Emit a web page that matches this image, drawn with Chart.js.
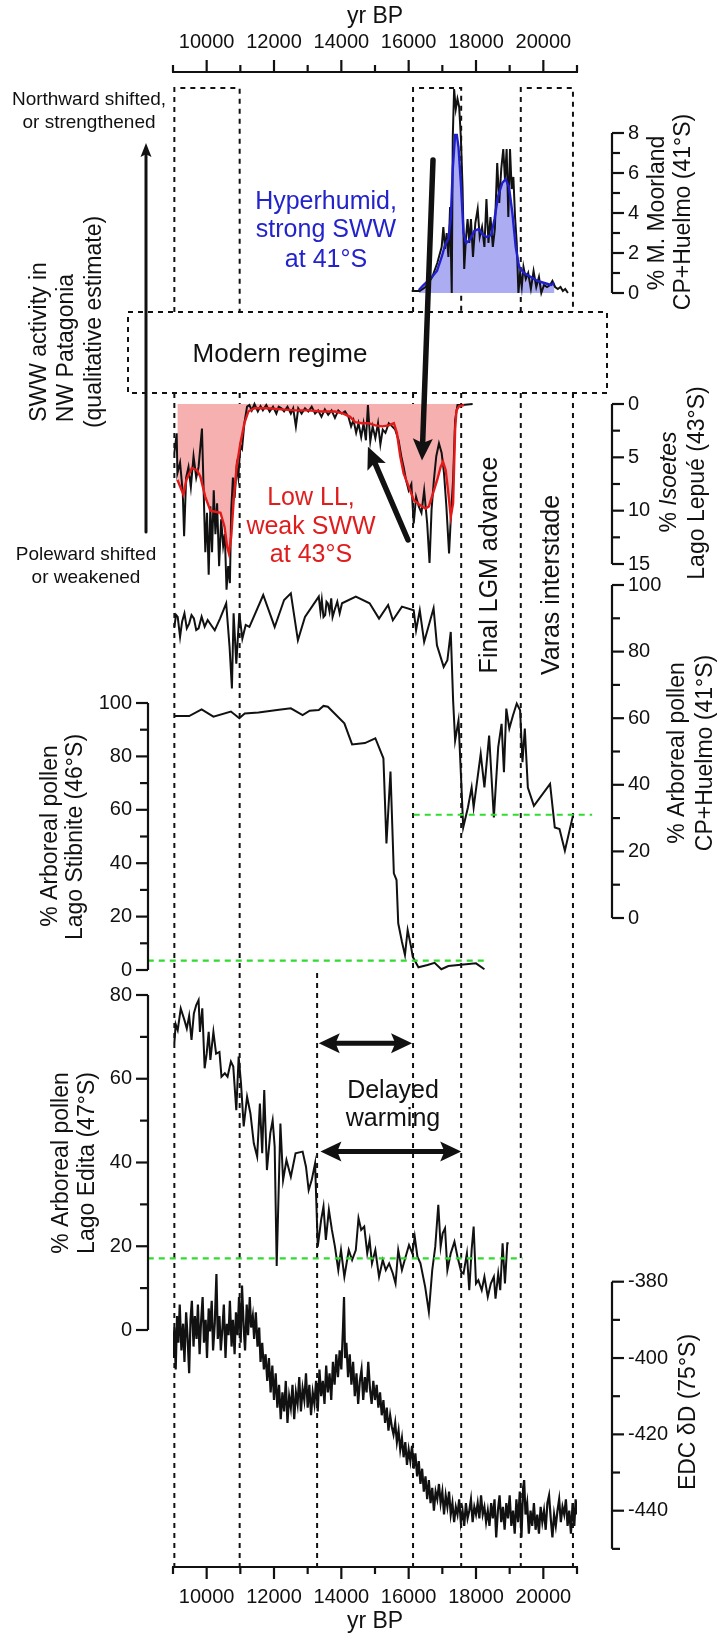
<!DOCTYPE html>
<html lang="en">
<head>
<meta charset="UTF-8">
<title>SWW activity and pollen records, 9000-21000 yr BP</title>
<script src="https://cdn.jsdelivr.net/npm/chart.js"></script>
<style>
  body { margin: 0; background: #fff; }
  canvas { display: block; }
</style>
</head>
<body>
<canvas id="proxyChart" width="721" height="1637"></canvas>
<script>
// ---------- data (yr BP, value) ----------
const yearMajorTicks = [10000, 12000, 14000, 16000, 18000, 20000];
const yearMinorTicks = [9000, 11000, 13000, 15000, 17000, 19000, 21000];

const moorlandTicks = [0, 2, 4, 6, 8];
const moorlandMinor = [1, 3, 5, 7];
const isoetesTicks = [0, 5, 10, 15];
const isoetesMinor = [2.5, 7.5, 12.5];
const pollenTicks = [0, 20, 40, 60, 80, 100];
const pollenMinor = [10, 30, 50, 70, 90];
const editaTicks = [0, 20, 40, 60, 80];
const editaMinor = [10, 30, 50, 70];
const edcTicks = [-380, -400, -420, -440];
const edcMinor = [-390, -410, -430, -450];

// dashed boxes / event lines
const topBoxes = [[9040, 10980], [16130, 17560], [19330, 20880]];
const eventYears = [9040, 10980, 16130, 17560, 19330, 20880];
const delayedYear = 13280;

// % Magellanic Moorland, CP+Huelmo
const moorlandRaw = [[16090,0.1],[16330,0.1],[16500,0.3],[16700,0.8],[16850,1.5],[16980,2.3],[17030,3.3],[17080,2.2],[17130,3.0],[17180,1.8],[17230,4.3],[17280,0],[17310,7.8],[17350,10.2],[17400,9.2],[17450,9.7],[17500,9.3],[17550,7.8],[17600,5.3],[17650,1.2],[17700,2.7],[17750,3.7],[17800,2.5],[17850,3.7],[17910,1.8],[17980,3.5],[18050,4.2],[18110,2.8],[18180,3.3],[18250,2.3],[18310,4.7],[18370,2.5],[18430,3.8],[18500,2.3],[18560,3.2],[18630,6.5],[18690,4.5],[18750,6.2],[18810,7.2],[18860,5.7],[18910,7.2],[18960,3.8],[19010,7.2],[19060,5.2],[19110,5.8],[19160,3.8],[19210,2.5],[19260,0],[19310,1],[19360,0.3],[19410,1.3],[19480,0.7],[19550,1],[19630,0.2],[19710,1.1],[19790,0.3],[19870,0.8],[19940,0],[20020,0.4],[20110,0.3],[20200,0.4],[20270,0.6],[20350,0.3],[20430,0.2],[20510,0.3],[20580,0.1],[20650,0.2],[20730,0]];
const moorlandSmooth = [[16300,0.15],[16440,0.4],[16640,0.7],[16840,1.1],[16980,1.8],[17080,2.4],[17180,2.7],[17250,3.7],[17310,6.2],[17380,7.9],[17430,7.9],[17480,7.3],[17550,5.5],[17630,3.0],[17710,2.5],[17830,2.7],[17950,3.1],[18080,3.2],[18210,2.9],[18330,2.8],[18450,2.9],[18550,3.7],[18650,4.8],[18780,5.5],[18880,5.7],[18980,5.3],[19080,4.0],[19180,2.3],[19280,1.3],[19430,1.0],[19630,0.8],[19830,0.6],[20030,0.5],[20230,0.4],[20330,0.5]];

// % Isoetes, Lago Lepue
const isoetesRaw = [[9040,4.6],[9110,2.75],[9130,6.5],[9210,5.5],[9290,8.3],[9330,12.4],[9390,6.9],[9460,5.9],[9530,7.8],[9610,4.9],[9690,6.9],[9760,5.9],[9860,2.3],[9910,8.1],[9960,13.9],[10010,10.2],[10060,16],[10110,9.6],[10160,13.9],[10210,8.1],[10260,12.2],[10310,9.3],[10370,15.2],[10430,10.8],[10490,13.3],[10540,12.2],[10590,17.4],[10640,15.2],[10690,16.8],[10730,9.9],[10780,6.9],[10830,8.8],[10890,5.9],[10940,6.9],[11000,3.9],[11050,4.2],[11120,1.8],[11200,0.25],[11270,0.1],[11340,0.6],[11420,0],[11520,0.7],[11600,0.2],[11670,0.6],[11770,0.1],[11870,0.7],[11970,0.25],[12070,0.9],[12140,0.25],[12220,0.4],[12300,0.7],[12400,0.25],[12500,0.9],[12570,0.4],[12650,2.1],[12720,0.4],[12820,0.9],[12920,0.4],[13020,0.7],[13120,0.25],[13220,0.9],[13310,0.6],[13410,1.2],[13510,0.5],[13610,1.0],[13710,0.6],[13810,1.3],[13910,0.6],[14010,0.9],[14110,0.7],[14210,1.2],[14290,2.1],[14360,1.5],[14440,2.7],[14510,1.8],[14590,3.1],[14660,1.8],[14730,3.4],[14790,0.1],[14860,3.5],[14930,2.1],[15010,3.2],[15090,1.8],[15160,3.8],[15230,2.4],[15310,2.7],[15410,1.8],[15510,2.1],[15600,2.4],[15700,3.4],[15780,4.9],[15850,5.9],[15920,7.1],[16000,8.1],[16080,7.5],[16150,11.2],[16220,8.7],[16300,9.6],[16380,10.2],[16460,8.1],[16550,11.2],[16620,14.9],[16680,9.9],[16750,7.1],[16820,4.9],[16900,3.7],[16980,4.6],[17050,6.5],[17120,9.6],[17200,14],[17260,10.2],[17320,7.1],[17380,1.5],[17450,0.1],[17600,0.1],[17900,0]];
const isoetesSmooth = [[9130,7.1],[9310,8.5],[9400,7.1],[9560,6.0],[9710,6.2],[9810,6.8],[9960,8.7],[10110,10.0],[10260,10.1],[10410,10.2],[10530,11.5],[10610,13.4],[10660,14.0],[10730,12.4],[10810,8.7],[10890,5.9],[11000,3.7],[11120,1.8],[11240,0.7],[11420,0.4],[11820,0.4],[12220,0.5],[12620,0.6],[13020,0.6],[13410,0.7],[13810,0.7],[14060,0.9],[14260,1.2],[14410,1.7],[14610,1.8],[14810,1.8],[15010,2.0],[15210,2.1],[15410,2.0],[15560,1.8],[15650,2.7],[15750,4.9],[15850,6.5],[16000,7.75],[16150,9.0],[16300,9.4],[16500,9.8],[16600,9.6],[16720,8.4],[16850,7.1],[16950,5.9],[17020,5.4],[17100,6.2],[17180,8.4],[17250,10.6],[17320,9.3],[17380,2.4],[17420,0.6],[17500,0.2],[17650,0.1]];

// % arboreal pollen, CP+Huelmo
const cpHuelmo = [[9040,87.4],[9090,91],[9140,90.4],[9210,84.4],[9270,89],[9340,91.5],[9410,87],[9480,88.4],[9550,91],[9620,90],[9690,86.5],[9760,87],[9850,90.5],[9940,87.5],[10030,89.5],[10130,88],[10240,86.4],[10400,90],[10580,94.5],[10680,81.4],[10750,68.9],[10800,91.5],[10880,76.4],[10970,91.5],[11060,83.9],[11160,88],[11270,87.4],[11680,97],[12020,87.4],[12300,95.5],[12500,97.5],[12710,83.4],[12920,90.4],[13330,96.5],[13380,92],[13420,95.5],[13470,90.4],[13520,91],[13560,95],[13600,94.5],[13650,92],[13700,96],[13740,90.4],[13800,92.5],[13880,95],[13950,91.5],[14020,94.5],[14430,96.5],[14840,94.5],[15120,89.9],[15390,94],[15530,89.4],[15800,93.5],[16150,92.4],[16220,86.4],[16330,92.4],[16460,82.9],[16740,93],[16840,81.9],[17040,75.4],[17150,77.4],[17250,85.9],[17320,65.4],[17380,53.3],[17480,59.3],[17560,41.3],[17620,27.2],[17760,33.2],[17870,39.2],[17930,33.2],[18140,49.3],[18250,39.2],[18390,54.8],[18530,30.2],[18660,51.3],[18760,58.3],[18830,43.8],[18900,62.9],[18990,56.9],[19100,60.9],[19210,64.4],[19310,62.4],[19380,46.8],[19450,56.9],[19540,39.2],[19720,33.7],[20200,40.3],[20340,27.2],[20480,26.7],[20640,20.2],[20890,31.2]];

// % arboreal pollen, Lago Stibnite
const stibnite = [[9040,95.1],[9480,95.1],[9850,97.6],[10200,94.9],[10720,96.8],[10970,94.3],[11130,96.1],[11540,96.4],[12090,97.4],[12500,98],[12850,95.5],[13060,97.1],[13330,97.4],[13470,98.9],[13600,98.6],[14090,92.4],[14320,84.5],[14700,85],[15010,86.8],[15250,79.3],[15340,47.4],[15460,74.3],[15560,36.2],[15640,33.7],[15690,17.5],[15800,10.6],[15890,5.6],[15970,15],[16080,8.1],[16120,5],[16290,1],[16560,1.9],[16770,2.7],[16970,0.3],[17180,1.5],[18000,2.5],[18250,0.3]];

// % arboreal pollen, Lago Edita
const edita = [[9040,68.5],[9080,73],[9140,71.6],[9230,76.8],[9340,74],[9410,72],[9480,75],[9550,69.3],[9620,75.6],[9690,77.6],[9760,78.8],[9800,71.2],[9870,76.8],[9940,62.5],[10000,66],[10060,71.2],[10110,64.5],[10200,71.2],[10280,66],[10380,66.4],[10440,60.5],[10540,61.3],[10620,60.5],[10720,64.1],[10790,62.9],[10880,52.5],[10950,65.3],[11020,58.9],[11100,48.6],[11200,55.7],[11300,51.7],[11400,44.6],[11500,41.4],[11580,54.1],[11650,42.2],[11710,57.3],[11790,38.2],[11890,47],[11960,50.1],[12020,43.8],[12080,15.3],[12190,49.3],[12270,35.8],[12370,40.6],[12500,36.6],[12640,42.2],[12850,42.6],[12950,39],[13030,33.4],[13120,35.8],[13220,39.8],[13300,19.9],[13400,26.3],[13470,29.5],[13540,21.5],[13630,28.7],[13720,23.9],[13810,19.9],[13910,14.3],[13990,19.1],[14090,12.7],[14220,19.1],[14320,16.7],[14430,19.1],[14510,26.7],[14590,23.9],[14680,24.7],[14770,18.3],[14840,21.5],[14910,15.9],[15010,19.1],[15120,12.7],[15230,16.7],[15320,14.3],[15420,15.9],[15530,13.5],[15610,11.1],[15690,19.1],[15800,14.3],[15910,17.5],[16010,20.3],[16110,18.3],[16180,22.3],[16260,17.5],[16350,15.9],[16490,10.3],[16600,4.3],[16700,14.3],[16790,19.9],[16880,29.9],[16950,19.9],[17010,23.1],[17080,24.3],[17150,14.3],[17250,18.3],[17360,21.1],[17450,17.5],[17560,13.9],[17630,13.5],[17730,18.3],[17800,9.5],[17870,19.1],[17930,24.7],[18000,11.1],[18070,11.9],[18170,9.5],[18250,12.7],[18350,7.9],[18440,11.1],[18530,12.7],[18580,7.5],[18660,13.5],[18720,9.5],[18790,20.7],[18860,11.1],[18930,20.7],[18970,20.7]];

// EDC deuterium (per mil)
const edcDeltaD = [[9000,-400],[9040,-392],[9080,-403],[9120,-389],[9160,-396],[9200,-386],[9250,-398],[9300,-391],[9340,-401],[9390,-388],[9430,-394],[9480,-404],[9520,-390],[9560,-385],[9610,-397],[9650,-389],[9700,-395],[9740,-386],[9790,-399],[9830,-391],[9880,-384],[9920,-396],[9970,-390],[10010,-400],[10060,-387],[10100,-393],[10150,-385],[10190,-398],[10240,-391],[10290,-378],[10330,-395],[10380,-389],[10420,-398],[10470,-392],[10510,-386],[10560,-400],[10600,-391],[10650,-394],[10690,-385],[10740,-397],[10780,-390],[10830,-399],[10870,-388],[10920,-394],[10960,-384],[11010,-396],[11050,-381],[11100,-392],[11140,-398],[11190,-386],[11230,-394],[11280,-384],[11320,-392],[11370,-389],[11410,-395],[11460,-388],
  [11510,-397],[11560,-392],[11600,-401],[11650,-396],[11700,-403],[11750,-399],[11800,-406],[11850,-400],[11900,-409],[11950,-402],[12000,-411],[12050,-404],[12100,-413],[12150,-407],[12200,-416],
  [12250,-409],[12300,-414],[12350,-406],[12400,-417],[12450,-410],[12500,-413],[12550,-407],[12600,-416],[12650,-409],[12700,-412],[12750,-405],[12800,-414],[12850,-408],[12900,-411],[12950,-404],[13000,-413],[13050,-407],[13100,-415],[13150,-409],[13200,-412],[13250,-406],[13300,-414],
  [13350,-403],[13400,-410],[13450,-406],[13500,-412],[13550,-402],[13600,-409],[13650,-404],[13700,-411],[13750,-401],[13800,-407],[13850,-399],[13900,-405],[13950,-398],[14000,-403],[14050,-392],[14080,-384],[14110,-400],[14150,-396],[14200,-405],[14250,-399],[14300,-407],[14350,-401],[14400,-410],[14450,-404],[14500,-412],
  [14550,-406],[14600,-403],[14650,-411],[14700,-405],[14750,-409],[14800,-401],[14850,-408],[14900,-412],[14950,-406],[15000,-411],[15050,-407],[15100,-413],[15150,-409],
  [15200,-415],[15250,-411],[15300,-417],[15350,-413],[15400,-419],[15450,-415],[15500,-418],[15550,-420],[15600,-417],[15650,-422],[15700,-419],[15750,-424],[15800,-421],[15850,-426],[15900,-422],[15950,-428],[16000,-424],[16050,-427],[16100,-423],[16150,-429],[16200,-425],[16250,-431],[16300,-427],
  [16350,-433],[16400,-429],[16450,-435],[16500,-431],[16550,-437],[16600,-432],[16650,-438],[16700,-434],[16750,-440],[16800,-435],[16850,-437],[16900,-433],[16950,-438],[17000,-435],[17050,-441],[17100,-436],[17150,-439],[17200,-435],[17250,-441],[17300,-438],[17350,-443],[17400,-439],[17450,-441],[17500,-437],[17550,-443],[17600,-440],
  [17650,-444],[17700,-438],[17750,-442],[17800,-440],[17850,-437],[17900,-443],[17950,-439],[18000,-441],[18050,-438],[18100,-442],[18150,-436],[18200,-441],[18250,-439],[18300,-443],[18350,-440],[18400,-444],[18450,-438],[18500,-442],[18550,-437],[18600,-447],[18650,-440],[18700,-436],[18750,-443],[18800,-439],[18850,-445],[18900,-438],[18950,-442],[19000,-436],[19050,-444],[19100,-440],[19150,-446],[19200,-437],[19250,-443],[19300,-435],[19350,-447],[19400,-434],[19430,-432],[19470,-441],[19520,-438],[19570,-446],[19620,-440],[19670,-444],[19720,-438],[19770,-445],[19820,-441],[19870,-446],[19920,-439],[19970,-443],[20020,-440],[20070,-445],[20120,-438],[20170,-436],[20220,-442],[20270,-447],[20320,-441],[20370,-444],[20420,-440],[20470,-437],[20520,-443],[20570,-439],[20620,-441],[20670,-437],[20720,-444],[20770,-440],[20820,-446],[20870,-438],[20920,-444],[20960,-437],[21000,-441]];

// modern-level thresholds (green dashed)
const cpThreshold = [[16150, 31], [21450, 31]];
const stibThreshold = [[8250, 3.5], [18350, 3.5]];
const editaThreshold = [[8250, 17.1], [19380, 17.1]];

// ---------- layout ----------
const W = 721, H = 1637;
const AREA = { left: 173, right: 577, top: 72, bottom: 1567 };
const RIGHT_AXIS_X = 612, LEFT_AXIS_X = 148;
const FONT = '"Liberation Sans", Arial, Helvetica, sans-serif';

// linear y scale where value v1 sits at pixel p1 and v2 at p2
function panelScale(v1, p1, v2, p2, reverse) {
  const k = (v2 - v1) / (p2 - p1);
  const atTop = v1 + (AREA.top - p1) * k;
  const atBottom = v1 + (AREA.bottom - p1) * k;
  return { type: 'linear', axis: 'y', display: false, reverse: !!reverse,
           min: Math.min(atTop, atBottom), max: Math.max(atTop, atBottom) };
}

const pts = arr => arr.map(([x, y]) => ({ x, y }));
function series(arr, yAxisID, color, width, extra) {
  return Object.assign({
    data: pts(arr), yAxisID, xAxisID: 'x', borderColor: color, borderWidth: width,
    pointRadius: 0, tension: 0, fill: false
  }, extra || {});
}

const BLACK = '#111';
const GREEN = '#2fdc2f';

const datasets = [
  series(cpThreshold, 'yCp', GREEN, 2.2, { borderDash: [6, 5], clip: false }),
  series(stibThreshold, 'yStib', GREEN, 2.2, { borderDash: [6, 5], clip: false }),
  series(editaThreshold, 'yEdita', GREEN, 2.2, { borderDash: [6, 5], clip: false }),
  series(moorlandSmooth, 'yMoor', '#1f1fcc', 2.4),
  series(isoetesSmooth, 'yIso', '#e31a1a', 2.4),
  series(moorlandRaw, 'yMoor', BLACK, 2),
  series(isoetesRaw, 'yIso', BLACK, 2),
  series(moorlandSmooth, 'yMoor', 'rgba(0,0,0,0)', 0, { fill: { value: 0 }, backgroundColor: '#acacf2' }),
  series(isoetesSmooth, 'yIso', 'rgba(0,0,0,0)', 0, { fill: { value: 0 }, backgroundColor: '#f6b0b0' }),
  series(cpHuelmo, 'yCp', BLACK, 2),
  series(stibnite, 'yStib', BLACK, 2),
  series(edita, 'yEdita', BLACK, 2),
  series(edcDeltaD, 'yEdc', BLACK, 2.2)
];

// ---------- drawing helpers ----------
function seg(ctx, x1, y1, x2, y2) {
  ctx.beginPath(); ctx.moveTo(x1, y1); ctx.lineTo(x2, y2); ctx.stroke();
}
function text(ctx, t, x, y, size, color, align, style) {
  ctx.font = (style || '') + ' ' + size + 'px ' + FONT;
  ctx.fillStyle = color || BLACK;
  ctx.textAlign = align || 'center';
  ctx.textBaseline = 'middle';
  ctx.fillText(t, x, y);
}
// vertical text reading bottom-to-top, parts = [[string, italic], ...]
function vtext(ctx, parts, cx, cy, size) {
  ctx.save();
  ctx.translate(cx, cy);
  ctx.rotate(-Math.PI / 2);
  let total = 0;
  const widths = parts.map(([t, it]) => {
    ctx.font = (it ? 'italic ' : '') + size + 'px ' + FONT;
    const w = ctx.measureText(t).width; total += w; return w;
  });
  let x = -total / 2;
  ctx.fillStyle = BLACK; ctx.textAlign = 'left'; ctx.textBaseline = 'middle';
  parts.forEach(([t, it], i) => {
    ctx.font = (it ? 'italic ' : '') + size + 'px ' + FONT;
    ctx.fillText(t, x, 0); x += widths[i];
  });
  ctx.restore();
}
function head(ctx, x, y, ang, len, w) {
  const c = Math.cos(ang), s = Math.sin(ang);
  ctx.beginPath();
  ctx.moveTo(x, y);
  ctx.lineTo(x - len * c + (w / 2) * s, y - len * s - (w / 2) * c);
  ctx.lineTo(x - len * c * 0.8, y - len * s * 0.8);
  ctx.lineTo(x - len * c - (w / 2) * s, y - len * s + (w / 2) * c);
  ctx.closePath(); ctx.fill();
}
function arrow(ctx, x1, y1, x2, y2, lw, len, w, both) {
  const ang = Math.atan2(y2 - y1, x2 - x1);
  const c = Math.cos(ang), s = Math.sin(ang);
  ctx.lineWidth = lw; ctx.lineCap = 'round';
  ctx.strokeStyle = BLACK; ctx.fillStyle = BLACK;
  const sx = both ? x1 + c * len * 0.7 : x1, sy = both ? y1 + s * len * 0.7 : y1;
  seg(ctx, sx, sy, x2 - c * len * 0.7, y2 - s * len * 0.7);
  head(ctx, x2, y2, ang, len, w);
  if (both) head(ctx, x1, y1, ang + Math.PI, len, w);
}
function yAxis(ctx, scale, x, side, majors, minors) {
  const all = majors.concat(minors).map(v => scale.getPixelForValue(v));
  ctx.strokeStyle = BLACK; ctx.lineWidth = 2.2; ctx.lineCap = 'butt';
  seg(ctx, x, Math.min(...all), x, Math.max(...all));
  majors.forEach(v => {
    const p = scale.getPixelForValue(v);
    seg(ctx, x, p, x + side * 12, p);
    text(ctx, String(v), x + side * 16, p, 20, BLACK, side > 0 ? 'left' : 'right');
  });
  minors.forEach(v => {
    const p = scale.getPixelForValue(v);
    seg(ctx, x, p, x + side * 8, p);
  });
}
function xAxis(ctx, xs, y, dir) {
  ctx.strokeStyle = BLACK; ctx.lineWidth = 2.2; ctx.lineCap = 'butt';
  seg(ctx, xs.getPixelForValue(9000) - 1, y, xs.getPixelForValue(21000) + 1, y);
  yearMajorTicks.forEach(v => {
    const p = xs.getPixelForValue(v);
    seg(ctx, p, y, p, y + dir * 12);
    text(ctx, String(v), p, y + dir * 30, 20);
  });
  yearMinorTicks.forEach(v => {
    const p = xs.getPixelForValue(v);
    seg(ctx, p, y, p, y + dir * 7);
  });
  text(ctx, 'yr BP', (AREA.left + AREA.right) / 2, y + dir * 55, 23);
}

const decor = {
  id: 'decor',
  beforeDatasetsDraw(chart) {
    const ctx = chart.ctx, xs = chart.scales.x;
    ctx.save();
    ctx.strokeStyle = BLACK; ctx.lineWidth = 2; ctx.setLineDash([5, 5]);
    // upper boxes
    topBoxes.forEach(([a, b]) => {
      const xa = xs.getPixelForValue(a), xb = xs.getPixelForValue(b);
      ctx.beginPath();
      ctx.moveTo(xa, 312); ctx.lineTo(xa, 88); ctx.lineTo(xb, 88); ctx.lineTo(xb, 312);
      ctx.stroke();
    });
    // modern regime box
    ctx.strokeRect(128, 312, 607 - 128, 393 - 312);
    // event lines below the box
    eventYears.forEach(v => {
      const p = xs.getPixelForValue(v);
      seg(ctx, p, 393, p, AREA.bottom);
    });
    const pd = xs.getPixelForValue(delayedYear);
    seg(ctx, pd, 973, pd, AREA.bottom);
    ctx.restore();
  },
  afterDatasetsDraw(chart) {
    const ctx = chart.ctx, s = chart.scales, xs = s.x;
    ctx.save();
    xAxis(ctx, xs, AREA.top, -1);
    xAxis(ctx, xs, AREA.bottom, 1);
    yAxis(ctx, s.yMoor, RIGHT_AXIS_X, 1, moorlandTicks, moorlandMinor);
    yAxis(ctx, s.yIso, RIGHT_AXIS_X, 1, isoetesTicks, isoetesMinor);
    yAxis(ctx, s.yCp, RIGHT_AXIS_X, 1, pollenTicks, pollenMinor);
    yAxis(ctx, s.yEdc, RIGHT_AXIS_X, 1, edcTicks, edcMinor);
    yAxis(ctx, s.yStib, LEFT_AXIS_X, -1, pollenTicks, pollenMinor);
    yAxis(ctx, s.yEdita, LEFT_AXIS_X, -1, editaTicks, editaMinor);

    // axis titles
    vtext(ctx, [['% M. Moorland', false]], 658, 213, 23);
    vtext(ctx, [['CP+Huelmo (41°S)', false]], 684, 212, 23);
    vtext(ctx, [['% ', false], ['Isoetes', true]], 670, 482, 23);
    vtext(ctx, [['Lago Lepué (43°S)', false]], 698, 483, 23);
    vtext(ctx, [['% Arboreal pollen', false]], 678, 753, 23);
    vtext(ctx, [['CP+Huelmo (41°S)', false]], 706, 753, 23);
    vtext(ctx, [['% Arboreal pollen', false]], 51, 836, 23);
    vtext(ctx, [['Lago Stibnite (46°S)', false]], 76, 837, 23);
    vtext(ctx, [['% Arboreal pollen', false]], 62, 1163, 23);
    vtext(ctx, [['Lago Edita (47°S)', false]], 88, 1163, 23);
    vtext(ctx, [['EDC δD (75°S)', false]], 689, 1412, 23);

    // SWW qualitative axis
    text(ctx, 'Northward shifted,', 89, 100, 19);
    text(ctx, 'or strengthened', 89, 123, 19);
    text(ctx, 'Poleward shifted', 86, 555, 19);
    text(ctx, 'or weakened', 86, 578, 19);
    arrow(ctx, 146, 532, 146, 143, 3, 14, 11, false);
    vtext(ctx, [['SWW activity in', false]], 40, 342, 23);
    vtext(ctx, [['NW Patagonia', false]], 67, 348, 23);
    vtext(ctx, [['(qualitative estimate)', false]], 95, 322, 23);

    text(ctx, 'Modern regime', 280, 355, 26);
    text(ctx, 'Hyperhumid,', 326, 202, 25, '#2323cc');
    text(ctx, 'strong SWW', 326, 230, 25, '#2323cc');
    text(ctx, 'at 41°S', 326, 260, 25, '#2323cc');
    text(ctx, 'Low LL,', 311, 498, 25, '#e01d1d');
    text(ctx, 'weak SWW', 311, 527, 25, '#e01d1d');
    text(ctx, 'at 43°S', 311, 555, 25, '#e01d1d');
    text(ctx, 'Delayed', 393, 1091, 25);
    text(ctx, 'warming', 393, 1119, 25);
    vtext(ctx, [['Final LGM advance', false]], 490, 565, 25);
    vtext(ctx, [['Varas interstade', false]], 552, 585, 25);

    // arrows placed in data space
    const X = v => xs.getPixelForValue(v);
    arrow(ctx, X(16723), s.yMoor.getPixelForValue(6.65), X(16396), s.yIso.getPixelForValue(5.3), 5.5, 22, 20, false);
    arrow(ctx, X(15980), s.yIso.getPixelForValue(12.75), X(14790), s.yIso.getPixelForValue(4.0), 5.5, 22, 20, false);
    arrow(ctx, X(13330), s.yEdita.getPixelForValue(68.5), X(16100), s.yEdita.getPixelForValue(68.5), 5, 21, 20, true);
    arrow(ctx, X(13380), s.yEdita.getPixelForValue(42.6), X(17560), s.yEdita.getPixelForValue(42.6), 5, 21, 20, true);
    ctx.restore();
  }
};

new Chart(document.getElementById('proxyChart'), {
  type: 'line',
  data: { datasets },
  options: {
    responsive: false,
    animation: false,
    events: [],
    layout: { padding: { left: AREA.left, right: W - AREA.right, top: AREA.top, bottom: H - AREA.bottom } },
    plugins: { legend: { display: false }, tooltip: { enabled: false }, title: { display: false } },
    scales: {
      x: { type: 'linear', display: false, min: 9000, max: 21000 },
      yMoor: panelScale(0, 293, 8, 133),
      yIso: panelScale(0, 404, 15, 564, true),
      yCp: panelScale(0, 918, 100, 585),
      yStib: panelScale(0, 970, 100, 703),
      yEdita: panelScale(0, 1330, 80, 995),
      yEdc: panelScale(-380, 1281.7, -440, 1510.7)
    }
  },
  plugins: [decor]
});
</script>
</body>
</html>
